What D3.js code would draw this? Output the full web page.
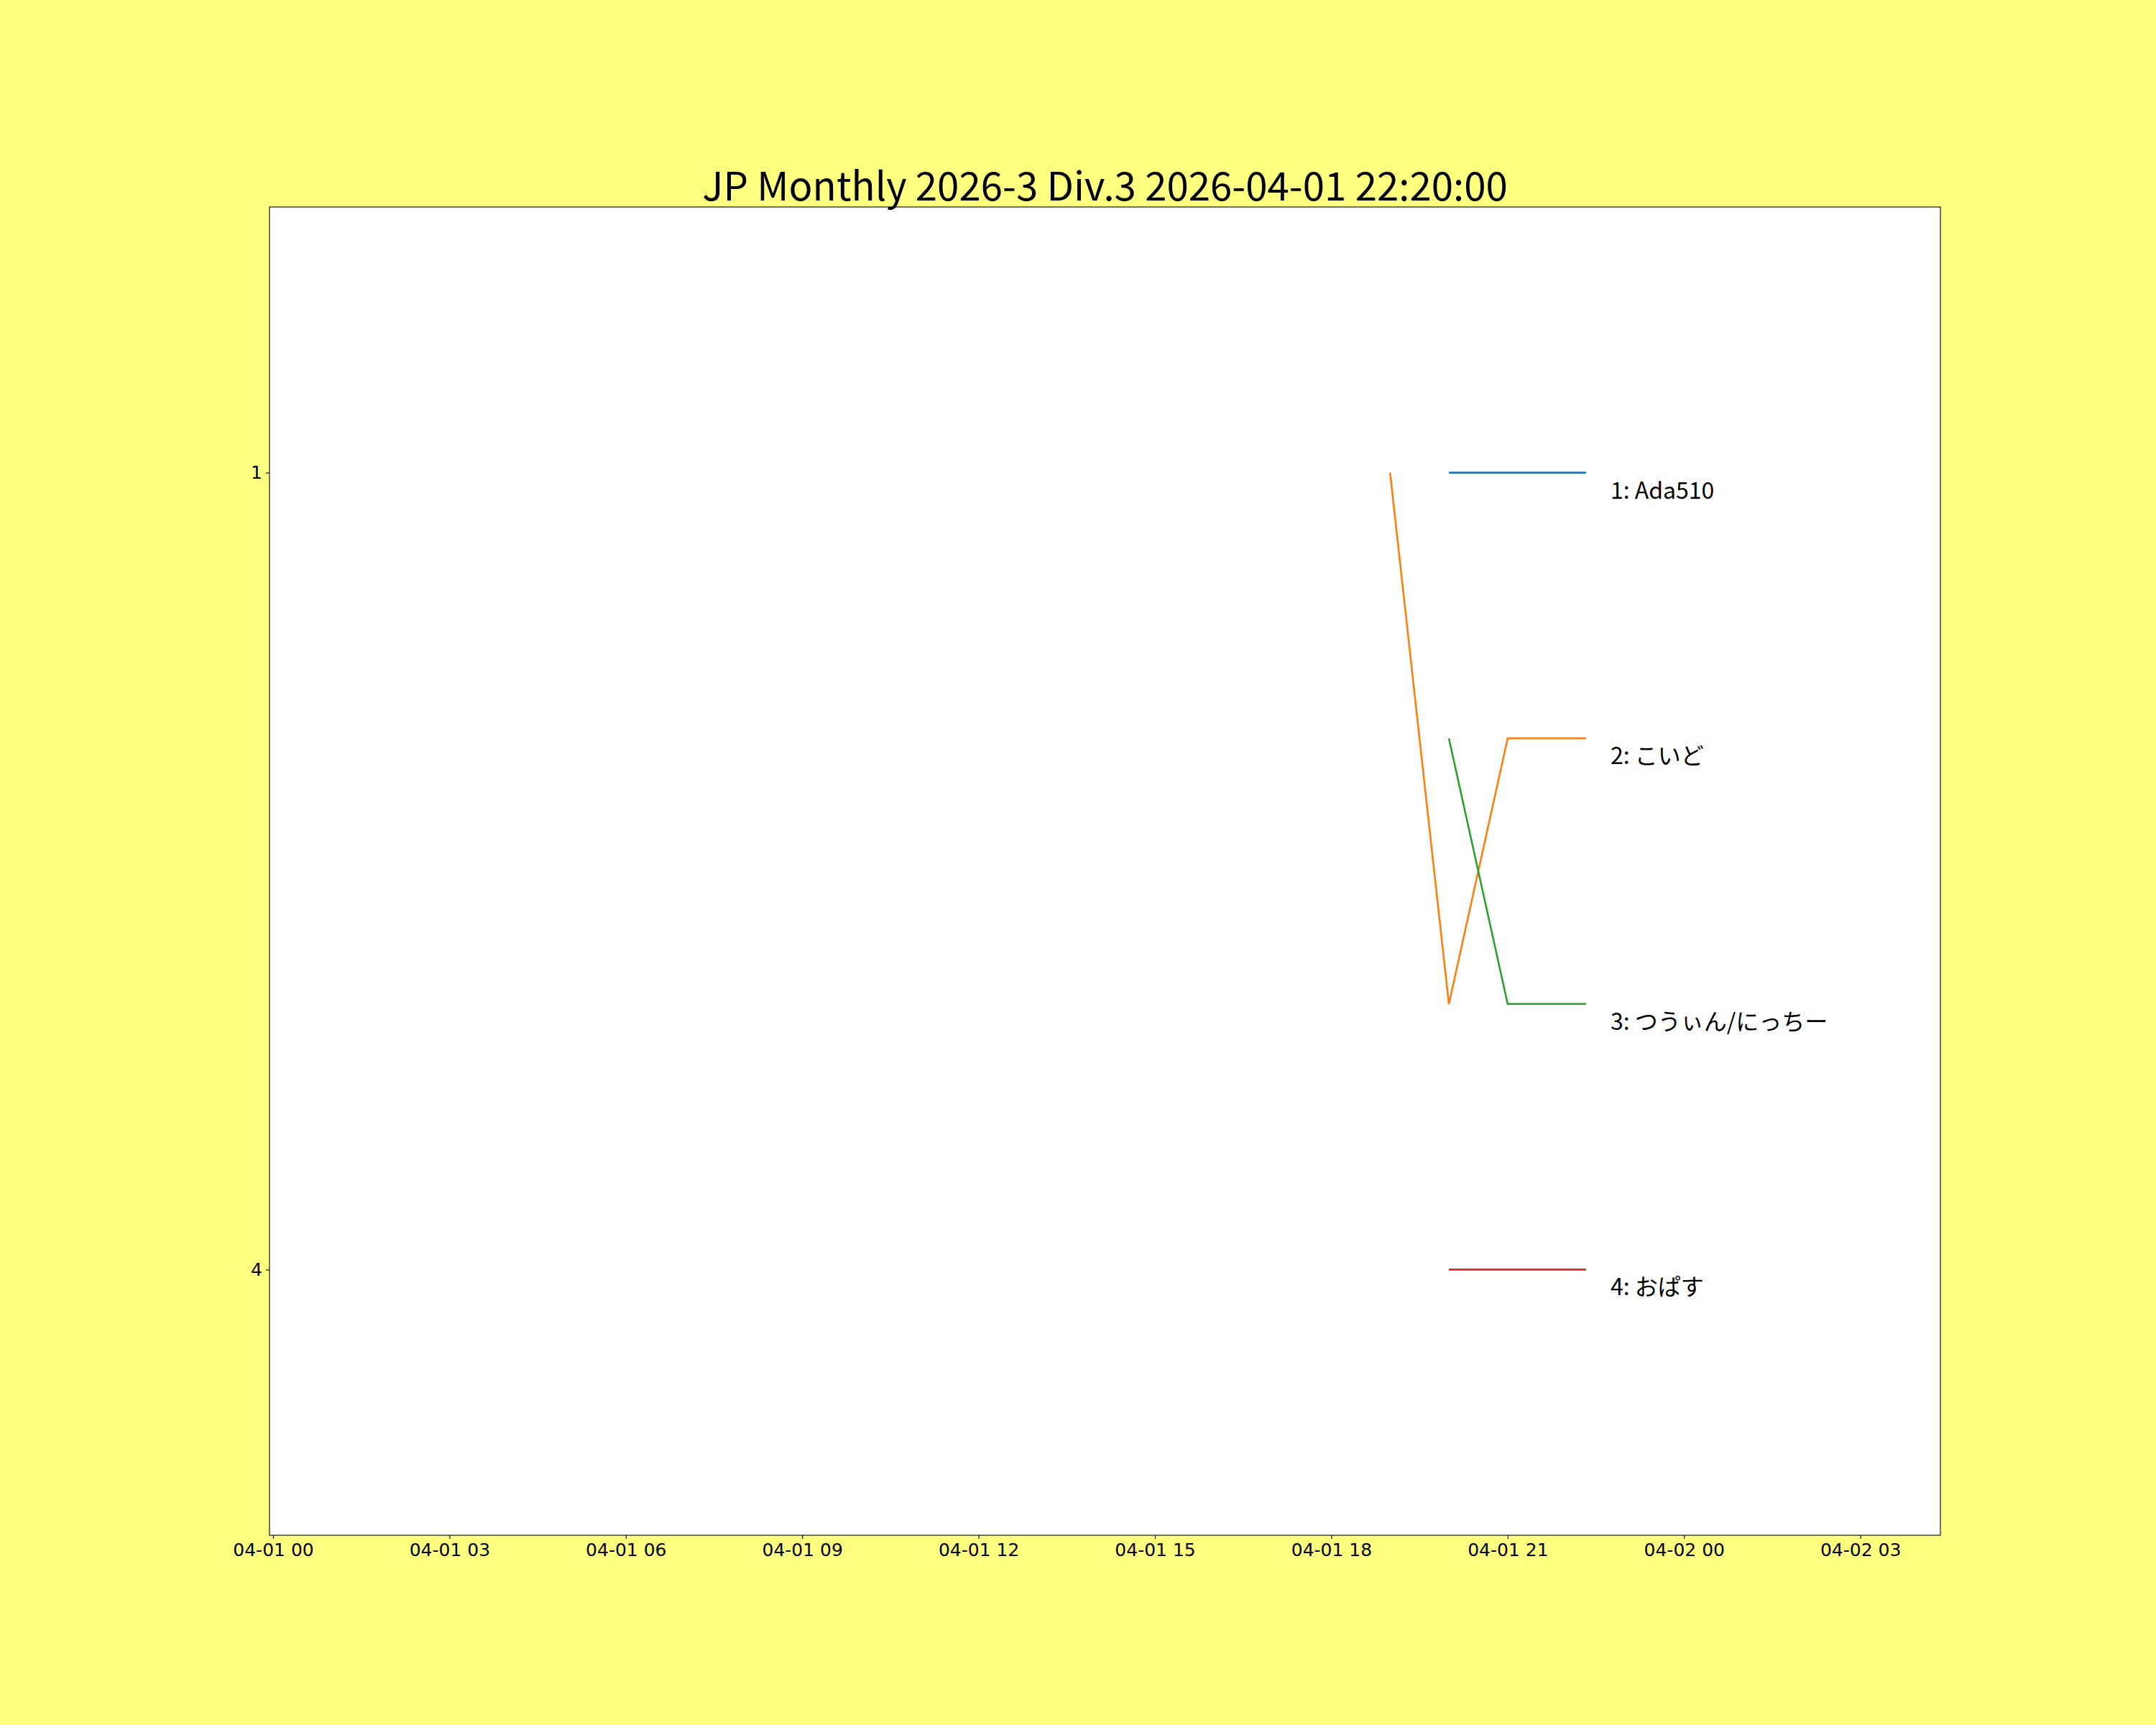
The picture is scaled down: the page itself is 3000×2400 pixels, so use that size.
<!DOCTYPE html>
<html>
<head>
<meta charset="utf-8">
<script src="https://cdn.jsdelivr.net/npm/d3@7"></script>
<style>
  html, body { margin: 0; padding: 0; background: #ffff80; }
  svg { display: block; }
</style>
</head>
<body>
<svg id="chart" width="3000" height="2400"></svg>
<script>
// ---- data ----
const title = "JP Monthly 2026-3 Div.3 2026-04-01 22:20:00";
const times = ["2026-04-01T19:00:00", "2026-04-01T20:00:00", "2026-04-01T21:00:00", "2026-04-01T22:20:00"];
const names = ["1: Ada510", "2: こいど", "3: つうぃん/にっちー", "4: おぱす"];
const rankAda510 = [null, 1, 1, 1];
const rankKoido  = [1, 3, 2, 2];
const rankTwin   = [null, 2, 3, 3];
const rankOpasu  = [null, 4, 4, 4];
const seriesRanks = [rankAda510, rankKoido, rankTwin, rankOpasu];
const colors = ["#1f77b4", "#ff7f0e", "#2ca02c", "#d62728"];
const yTickValues = [1, 4];
const xTickLabels = ["04-01 00", "04-01 03", "04-01 06", "04-01 09", "04-01 12", "04-01 15", "04-01 18", "04-01 21", "04-02 00", "04-02 03"];
const xDomain = ["2026-03-31T23:56:20", "2026-04-02T04:21:40"];
const yDomain = [0, 5];

// ---- layout ----
const W = 3000, H = 2400;
const L = 375, R = 2700, T = 288, B = 2136;
const svg = d3.select("#chart");
svg.append("rect").attr("width", W).attr("height", H).attr("fill", "#ffff80");

const parse = s => new Date(s);
const x = d3.scaleTime().domain(xDomain.map(parse)).range([L, R]);
const y = d3.scaleLinear().domain(yDomain).range([T, B]);

// plot area background
svg.append("rect").attr("x", L).attr("y", T).attr("width", R - L).attr("height", B - T).attr("fill", "#ffffff");

// lines
const line = d3.line()
  .defined(d => d.r !== null)
  .x(d => x(d.t))
  .y(d => y(d.r));

seriesRanks.forEach((ranks, i) => {
  const pts = times.map((t, j) => ({ t: parse(t), r: ranks[j] }));
  svg.append("path")
    .datum(pts)
    .attr("fill", "none")
    .attr("stroke", colors[i])
    .attr("stroke-width", 2.6)
    .attr("stroke-linejoin", "miter")
    .attr("d", line);
  const last = pts[pts.length - 1];
  svg.append("text")
    .attr("x", x(last.t) + 34)
    .attr("y", y(last.r) + 36)
    .attr("font-family", "'Noto Sans CJK JP', sans-serif")
    .attr("font-size", 32)
    .attr("fill", "#000")
    .text(names[i]);
});

// x axis
const xTickDates = xTickLabels.map((lab, i) => d3.timeHour.offset(parse("2026-04-01T00:00:00"), i * 3));
const xAxis = d3.axisBottom(x)
  .tickValues(xTickDates)
  .tickFormat((d, i) => xTickLabels[i])
  .tickSize(5)
  .tickPadding(5);
const gx = svg.append("g").attr("transform", `translate(0,${B})`).call(xAxis);
gx.select(".domain").remove();
gx.selectAll("line").attr("stroke", "#000").attr("stroke-width", 1.1);
gx.selectAll("text")
  .attr("font-family", "'DejaVu Sans', sans-serif")
  .attr("font-size", 25)
  .attr("fill", "#000")
  .attr("dy", "0.76em");

// y axis
const yAxis = d3.axisLeft(y)
  .tickValues(yTickValues)
  .tickFormat(d3.format("d"))
  .tickSize(5)
  .tickPadding(5);
const gy = svg.append("g").attr("transform", `translate(${L},0)`).call(yAxis);
gy.select(".domain").remove();
gy.selectAll("line").attr("stroke", "#000").attr("stroke-width", 1.1);
gy.selectAll("text")
  .attr("font-family", "'DejaVu Sans', sans-serif")
  .attr("font-size", 25)
  .attr("fill", "#000");

// frame
svg.append("rect").attr("x", L).attr("y", T).attr("width", R - L).attr("height", B - T)
  .attr("fill", "none").attr("stroke", "#000").attr("stroke-width", 1.1);

// title
svg.append("text")
  .attr("x", (L + R) / 2)
  .attr("y", 279)
  .attr("text-anchor", "middle")
  .attr("font-family", "'Noto Sans CJK JP', sans-serif")
  .attr("font-size", 54.6)
  .attr("fill", "#000")
  .text(title);
</script>
</body>
</html>
